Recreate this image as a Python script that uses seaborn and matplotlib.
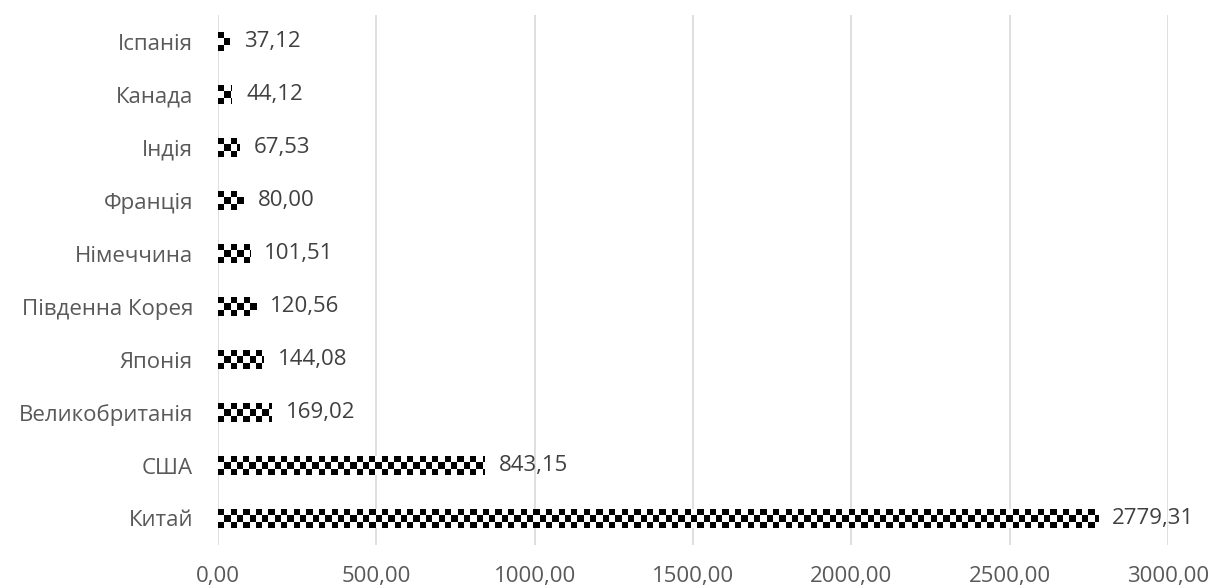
import numpy as np
import pandas as pd
import seaborn as sns
from matplotlib import pyplot as plt

countries = ["Іспанія", "Канада", "Індія", "Франція", "Німеччина",
             "Південна Корея", "Японія", "Великобританія", "США", "Китай"]
values = [37.12, 44.12, 67.53, 80.00, 101.51, 120.56, 144.08, 169.02, 843.15, 2779.31]
xticks = [0, 500, 1000, 1500, 2000, 2500, 3000]

df = pd.DataFrame({"country": countries, "value": values})

sns.set_style("white")
plt.rcParams['font.family'] = ['Open Sans', 'DejaVu Sans']

fig = plt.figure(figsize=(12.13, 5.88), dpi=100)
ax = fig.add_axes([218 / 1213, 43 / 588, 950 / 1213, 530 / 588])

sns.barplot(data=df, x="value", y="country", orient="h", color="white",
            width=0.34, ax=ax, edgecolor="none", zorder=2)

ax.set_xlim(0, 3000)
ax.set_ylim(9.5, -0.5)
ax.set_xticks(xticks)
ax.set_xticklabels([f"{t:.2f}".replace(".", ",") for t in xticks])
ax.xaxis.grid(True, color="#d9d9d9", linewidth=1.2, zorder=0)
ax.set_axisbelow(True)
for s in ax.spines.values():
    s.set_visible(False)
ax.tick_params(axis="both", length=0, labelsize=16, labelcolor="#595959")
ax.tick_params(axis="x", pad=15)
ax.tick_params(axis="y", pad=18)
ax.set_xlabel("")
ax.set_ylabel("")

# checkerboard fill, clipped to each bar
fig.canvas.draw()
cell_px = 6.3
px_per_x = ax.transData.transform((1, 0))[0] - ax.transData.transform((0, 0))[0]
cell_x = cell_px / px_per_x
for p, v in zip(ax.patches, values):
    x0, y0 = p.get_x(), p.get_y()
    h = p.get_height()
    ncol = int(np.ceil(v / cell_x)) + 1
    board = (np.add.outer(np.arange(3), np.arange(ncol)) % 2).astype(float)
    im = ax.imshow(board, cmap="gray", interpolation="nearest", aspect="auto",
                   extent=(x0, x0 + ncol * cell_x, y0 + h, y0), zorder=3)
    im.set_clip_path(p)
    ax.text(v + 45, y0 + h / 2, f"{v:.2f}".replace(".", ","), va="center",
            ha="left", fontsize=16, color="#404040", zorder=4)

ax.set_xlim(0, 3000)
ax.set_ylim(9.5, -0.5)

fig.savefig("out.png", dpi=100)
